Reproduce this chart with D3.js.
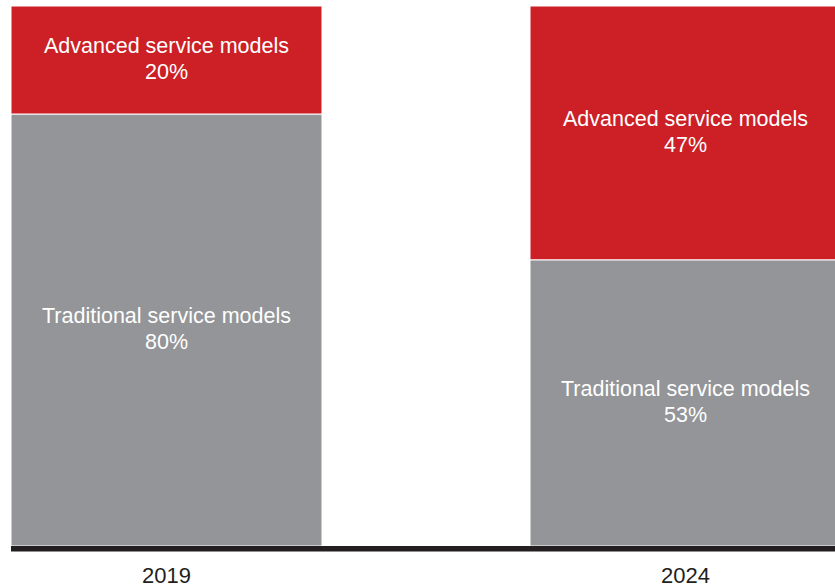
<!DOCTYPE html>
<html>
<head>
<meta charset="utf-8">
<script src="https://cdn.jsdelivr.net/npm/d3@7"></script>
<style>
  body { margin: 0; background: #fff; }
  svg { display: block; }
</style>
</head>
<body>
<div id="containerDiv"></div>
<script>
var years = ["2019", "2024"];
var segmentNames = ["Traditional service models", "Advanced service models"];
var traditional = [80, 53];
var advanced = [20, 47];
var segmentColors = ["#939598", "#cc1f26"];

var w = 835;
var h = 588;

var svg = d3.select("#containerDiv")
            .append("svg")
            .attr("width", w)
            .attr("height", h);

// band scale runs past the right edge on purpose, the 2024 bar is clipped in the original
var x = d3.scaleBand()
          .domain(years)
          .range([11, 841])
          .paddingInner(0.4008)
          .paddingOuter(0);

var y = d3.scaleLinear()
          .domain([0, 100])
          .range([546, 6]);

var rows = years.map(function(yr, i) {
  return { year: yr, trad: traditional[i], adv: advanced[i] };
});

var stacked = d3.stack().keys(["trad", "adv"])(rows);

var layers = svg.selectAll("g.layer")
   .data(stacked)
   .enter()
   .append("g")
   .attr("class", "layer")
   .attr("fill", function(d, i) { return segmentColors[i]; });

layers.selectAll("rect")
   .data(function(d) { return d; })
   .enter()
   .append("rect")
   .attr("x", function(d) { return x(d.data.year); })
   .attr("y", function(d) { return y(d[1]); })
   .attr("width", x.bandwidth())
   .attr("height", function(d) { return y(d[0]) - y(d[1]); })
   .attr("stroke", "#fff")
   .attr("stroke-width", 1);

// labels, two lines centred in each segment
layers.each(function(layer, li) {
  var g = d3.select(this);
  var t = g.selectAll("text")
     .data(layer)
     .enter()
     .append("text")
     .attr("text-anchor", "middle")
     .attr("font-family", "'Liberation Sans', Arial, sans-serif")
     .attr("font-size", "21.5px")
     .attr("fill", "#fff");

  t.append("tspan")
     .attr("x", function(d) { return x(d.data.year) + x.bandwidth() / 2; })
     .attr("y", function(d) { return (y(d[0]) + y(d[1])) / 2 - 7; })
     .text(segmentNames[li]);

  t.append("tspan")
     .attr("x", function(d) { return x(d.data.year) + x.bandwidth() / 2; })
     .attr("y", function(d) { return (y(d[0]) + y(d[1])) / 2 + 19; })
     .text(function(d) { return (d[1] - d[0]) + "%"; });
});

// baseline
svg.append("rect")
   .attr("x", 11)
   .attr("y", y(0))
   .attr("width", w - 11)
   .attr("height", 5.5)
   .attr("fill", "#231f20");

// year labels
svg.selectAll("text.year")
   .data(years)
   .enter()
   .append("text")
   .attr("class", "year")
   .attr("text-anchor", "middle")
   .attr("x", function(d) { return x(d) + x.bandwidth() / 2; })
   .attr("y", 583)
   .attr("font-family", "'Liberation Sans', Arial, sans-serif")
   .attr("font-size", "22px")
   .attr("fill", "#231f20")
   .text(function(d) { return d; });
</script>
</body>
</html>
